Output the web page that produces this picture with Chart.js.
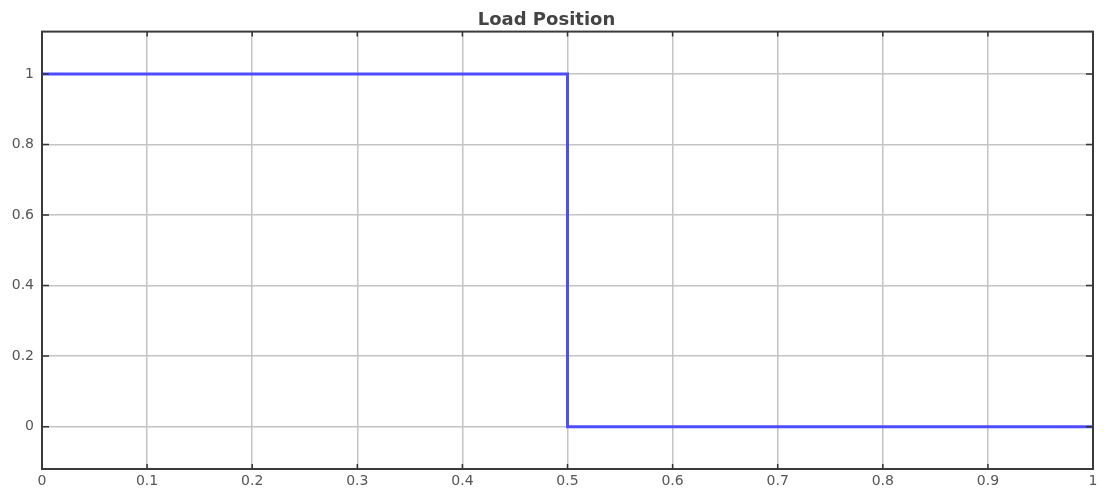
<!DOCTYPE html>
<html>
<head>
<meta charset="utf-8">
<script src="https://cdn.jsdelivr.net/npm/chart.js@4/dist/chart.umd.min.js"></script>
<style>
  html, body { margin: 0; padding: 0; background: #fff; }
  #wrap { width: 1109px; height: 490px; }
</style>
</head>
<body>
<div id="wrap"><canvas id="myChart"></canvas></div>
<script>
const time = [0, 0.5, 0.5, 1];
const position = [1, 1, 0, 0];
const xTicks = [0, 0.1, 0.2, 0.3, 0.4, 0.5, 0.6, 0.7, 0.8, 0.9, 1];
const yTicks = [0, 0.2, 0.4, 0.6, 0.8, 1];

// frame + inward tick marks, matlab scope style
const framePlugin = {
  id: 'frame',
  afterDraw(chart) {
    const { ctx, chartArea: a, scales } = chart;
    ctx.save();
    ctx.strokeStyle = '#333';
    ctx.lineWidth = 1.5;
    xTicks.forEach(v => {
      const x = scales.x.getPixelForValue(v);
      ctx.beginPath();
      ctx.moveTo(x, a.top); ctx.lineTo(x, a.top + 5);
      ctx.moveTo(x, a.bottom); ctx.lineTo(x, a.bottom - 5);
      ctx.stroke();
    });
    yTicks.forEach(v => {
      const y = scales.y.getPixelForValue(v);
      ctx.beginPath();
      ctx.moveTo(a.left, y); ctx.lineTo(a.left + 7, y);
      ctx.moveTo(a.right, y); ctx.lineTo(a.right - 7, y);
      ctx.stroke();
    });
    ctx.strokeStyle = '#3a3a3a';
    ctx.lineWidth = 2;
    ctx.strokeRect(a.left, a.top, a.right - a.left, a.bottom - a.top);
    ctx.restore();
  }
};

const ctx = document.getElementById('myChart').getContext('2d');
new Chart(ctx, {
  type: 'scatter',
  data: {
    datasets: [{
      label: 'Load Position',
      data: time.map((t, i) => ({ x: t, y: position[i] })),
      showLine: true,
      borderColor: '#4d4dff',
      borderWidth: 3,
      pointRadius: 0,
      fill: false
    }]
  },
  options: {
    responsive: true,
    maintainAspectRatio: false,
    animation: false,
    layout: { padding: { top: 0, right: 16, left: 0, bottom: 0 } },
    plugins: {
      legend: { display: false },
      tooltip: { enabled: false },
      title: {
        display: true,
        text: 'Load Position',
        color: '#444',
        font: { family: 'DejaVu Sans', size: 18, weight: 'bold' },
        padding: { top: 10, bottom: 0 }
      }
    },
    scales: {
      x: {
        type: 'linear',
        min: 0,
        max: 1,
        afterBuildTicks: s => { s.ticks = xTicks.map(v => ({ value: v })); },
        afterFit: s => { s.height = 21; },
        grid: { color: '#c4c4c4', lineWidth: 1.5, drawTicks: false },
        border: { display: false },
        ticks: {
          color: '#555',
          padding: 4,
          maxRotation: 0,
          callback: v => String(v),
          font: { family: 'DejaVu Sans', size: 14 }
        }
      },
      y: {
        min: -0.12,
        max: 1.12,
        afterBuildTicks: s => { s.ticks = yTicks.map(v => ({ value: v })); },
        afterFit: s => { s.width = 42; },
        grid: { color: '#c4c4c4', lineWidth: 1.5, drawTicks: false },
        border: { display: false },
        ticks: {
          color: '#555',
          padding: 8,
          callback: v => String(v),
          font: { family: 'DejaVu Sans', size: 14 }
        }
      }
    }
  },
  plugins: [framePlugin]
});
</script>
</body>
</html>
